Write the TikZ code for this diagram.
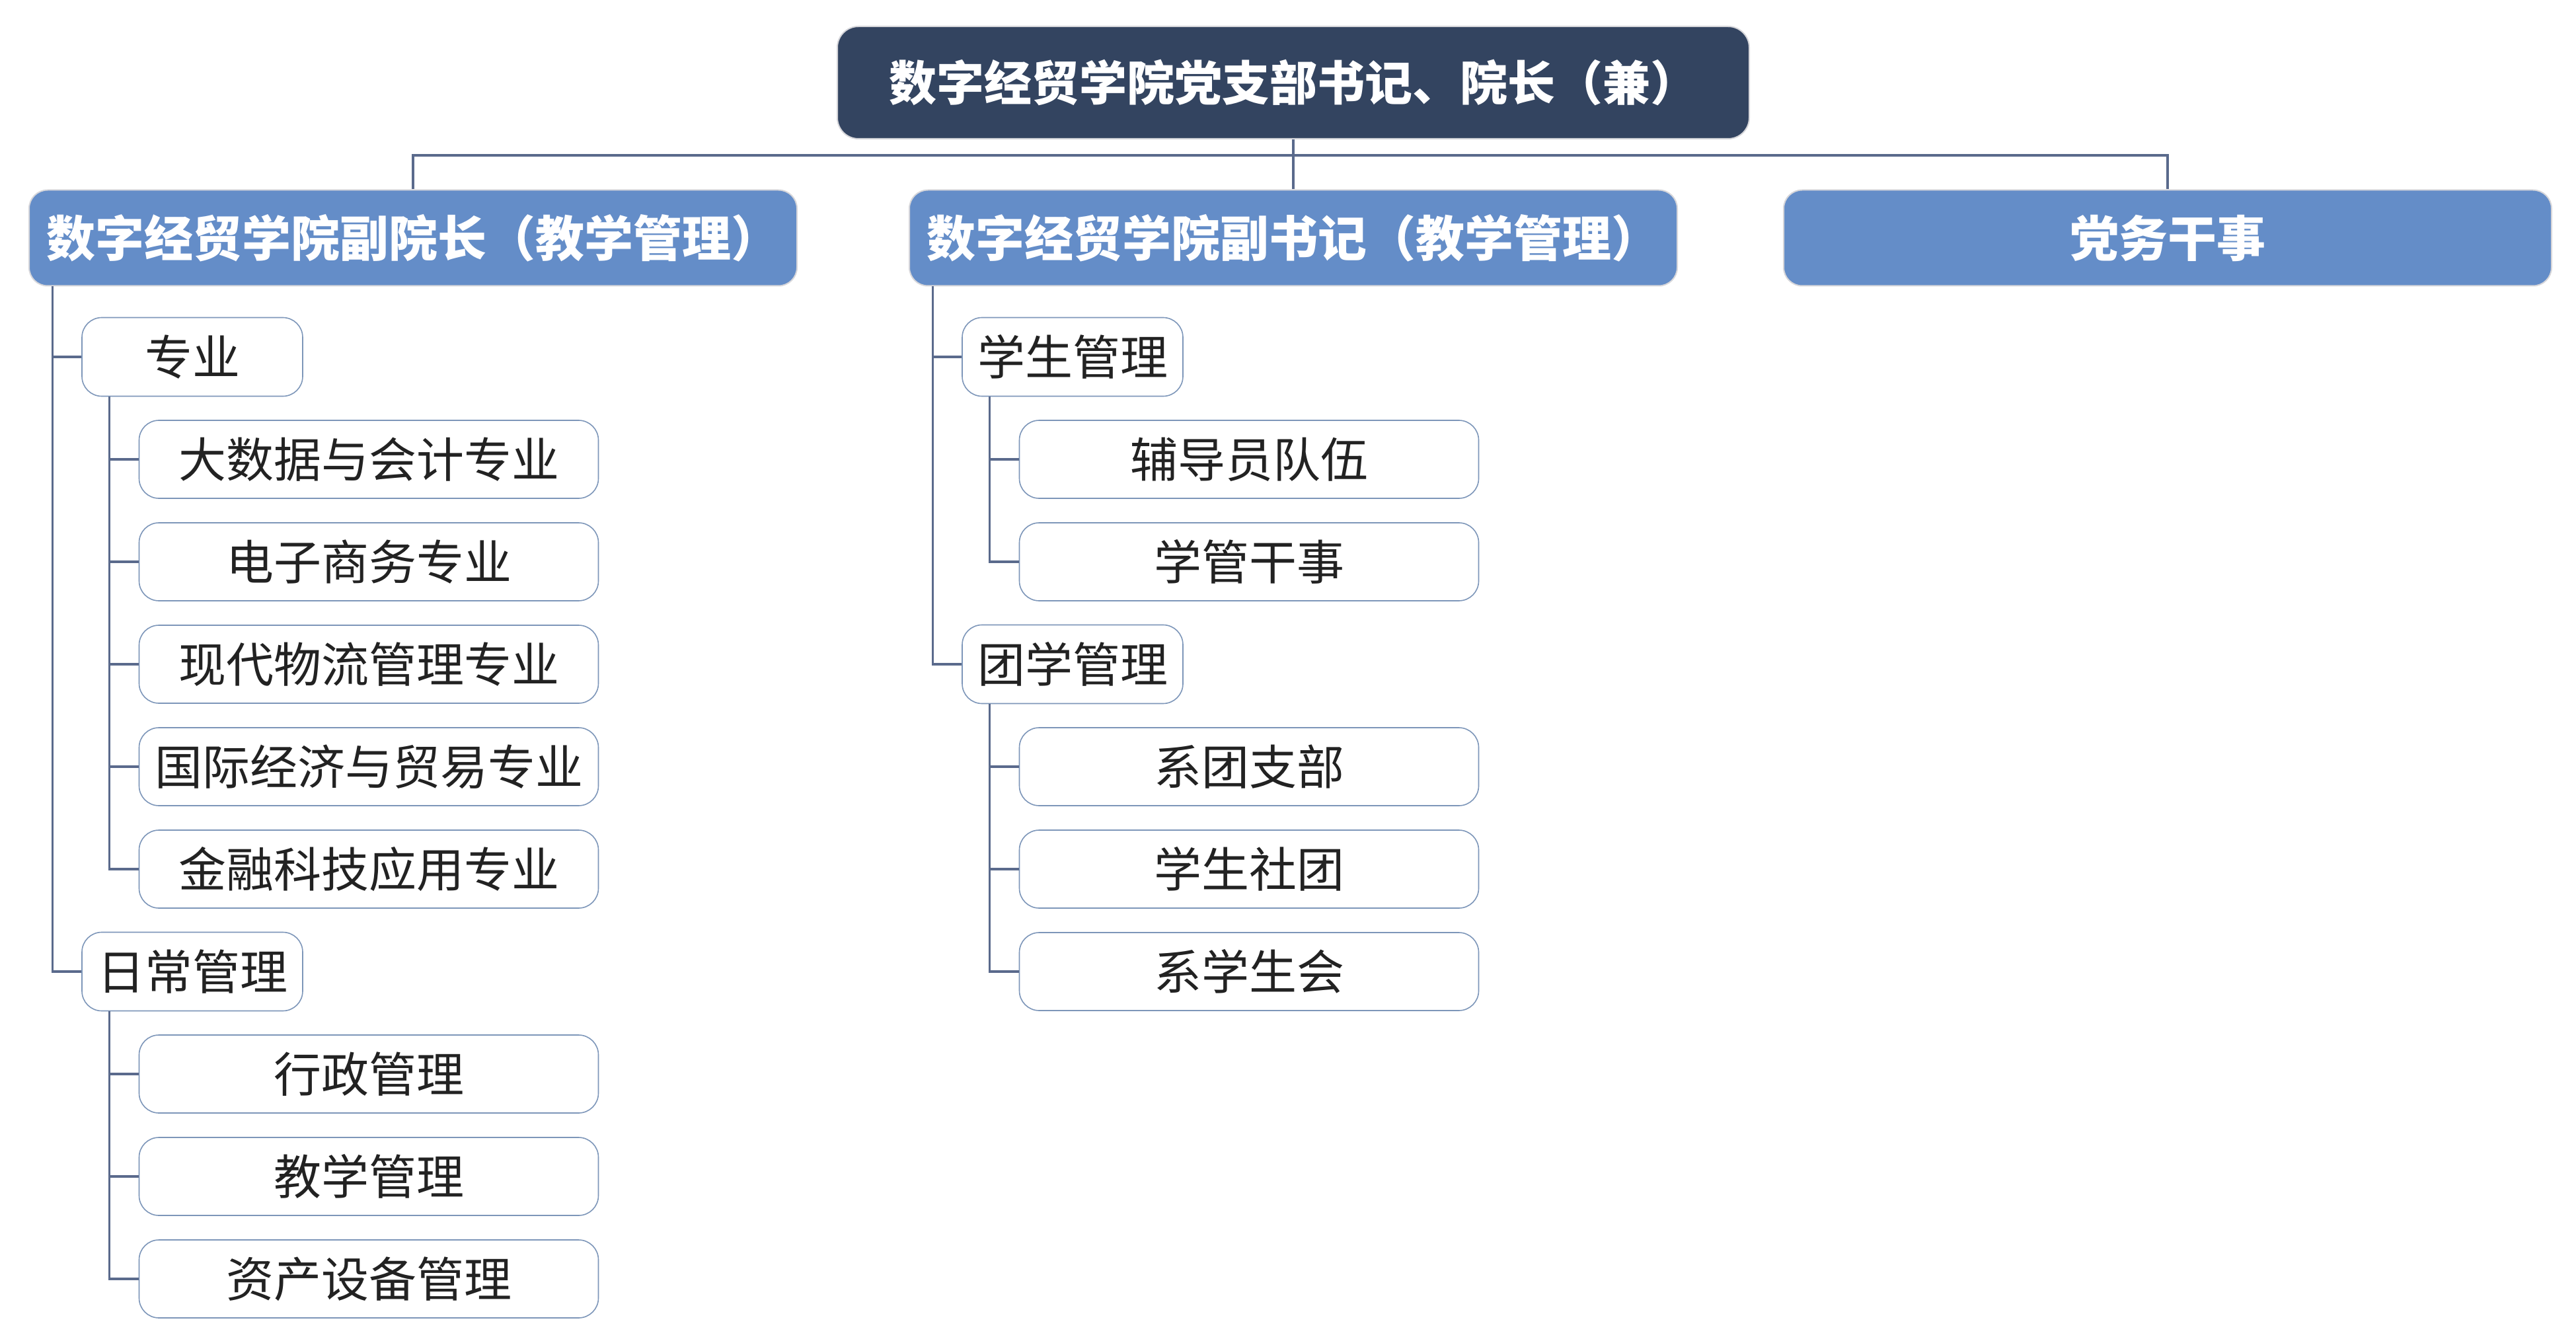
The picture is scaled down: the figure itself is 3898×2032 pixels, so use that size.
\documentclass[tikz,border=0pt]{standalone}
\usepackage{fontspec}
\setmainfont{Noto Sans CJK SC}
\usepackage{tikz}
\usetikzlibrary{positioning, calc}
\definecolor{N}{RGB}{51,68,96}
\definecolor{M}{RGB}{100,141,200}
\definecolor{G}{RGB}{214,214,218}
\definecolor{E}{RGB}{125,150,185}
\definecolor{L}{RGB}{90,106,140}
\definecolor{K}{RGB}{34,34,34}
\tikzstyle{head} = [rectangle, rounded corners=8pt,
minimum width=345pt, minimum height=42.5pt, inner sep=0pt,
draw=G, line width=0.5pt, fill=N, text=white,
font=\fontsize{18pt}{20pt}\selectfont\bfseries]
\tikzstyle{dept} = [rectangle, rounded corners=7pt,
minimum width=290.5pt, minimum height=36.25pt, inner sep=0pt,
draw=G, line width=0.5pt, fill=M, text=white,
font=\fontsize{18.5pt}{20pt}\selectfont\bfseries]
\tikzstyle{unit} = [rectangle, rounded corners=7.5pt,
minimum width=83.5pt, minimum height=29.75pt, inner sep=0pt,
draw=E, line width=0.4pt, fill=white, text=K,
font=\fontsize{18pt}{20pt}\selectfont]
\tikzstyle{leaf} = [unit, minimum width=173.75pt, minimum height=29.5pt]
\tikzstyle{conn} = [draw=L, line width=0.8pt]

\begin{document}
\begin{tikzpicture}[
    x=0.25pt, y=-0.25pt, % one unit is one pixel of the layout, y runs down
    node distance=38.75pt, % one row of the lists below the heads
  ]
    \useasboundingbox (0,0) rectangle (3898,2032);

    \node[head]                     (0) at (1957,125) {数字经贸学院党支部书记、院长（兼）};
    \node[dept]                     (1) at (625,360)  {数字经贸学院副院长（教学管理）};
    \node[dept]                     (2) at (1957,360) {数字经贸学院副书记（教学管理）};
    \node[dept]                     (3) at (3280,360) {党务干事};

    \node[unit, below of=1, shift={(-334,25)}]   (10)  {专业};
    \node[leaf, below of=10, shift={(267,0)}]    (100) {大数据与会计专业};
    \node[leaf, below of=100]                    (101) {电子商务专业};
    \node[leaf, below of=101]                    (102) {现代物流管理专业};
    \node[leaf, below of=102]                    (103) {国际经济与贸易专业};
    \node[leaf, below of=103]                    (104) {金融科技应用专业};
    \node[unit, below of=104, shift={(-267,0)}]  (11)  {日常管理};
    \node[leaf, below of=11, shift={(267,0)}]    (110) {行政管理};
    \node[leaf, below of=110]                    (111) {教学管理};
    \node[leaf, below of=111]                    (112) {资产设备管理};

    \node[unit, below of=2, shift={(-334,25)}]   (20)  {学生管理};
    \node[leaf, below of=20, shift={(267,0)}]    (200) {辅导员队伍};
    \node[leaf, below of=200]                    (201) {学管干事};
    \node[unit, below of=201, shift={(-267,0)}]  (21)  {团学管理};
    \node[leaf, below of=21, shift={(267,0)}]    (210) {系团支部};
    \node[leaf, below of=210]                    (211) {学生社团};
    \node[leaf, below of=211]                    (212) {系学生会};

    % trunks
    \coordinate (bus) at (0,235);
    \coordinate (t1)  at ([xshift=-11pt]10.west |- 1.south);
    \coordinate (t2)  at ([xshift=-11pt]20.west |- 2.south);
    \coordinate (t10) at ([xshift=10.5pt]10.south west);
    \coordinate (t11) at ([xshift=10.5pt]11.south west);
    \coordinate (t20) at ([xshift=10.5pt]20.south west);
    \coordinate (t21) at ([xshift=10.5pt]21.south west);

    \draw [conn] (0.south) -- (2.north);
    \draw [conn] (1.north) -- (1.north |- bus) -- (3.north |- bus) -- (3.north);

    \draw [conn] (t1) |- (10.west);
    \draw [conn] (t1) |- (11.west);
    \draw [conn] (t10) |- (100.west);
    \draw [conn] (t10) |- (101.west);
    \draw [conn] (t10) |- (102.west);
    \draw [conn] (t10) |- (103.west);
    \draw [conn] (t10) |- (104.west);
    \draw [conn] (t11) |- (110.west);
    \draw [conn] (t11) |- (111.west);
    \draw [conn] (t11) |- (112.west);

    \draw [conn] (t2) |- (20.west);
    \draw [conn] (t2) |- (21.west);
    \draw [conn] (t20) |- (200.west);
    \draw [conn] (t20) |- (201.west);
    \draw [conn] (t21) |- (210.west);
    \draw [conn] (t21) |- (211.west);
    \draw [conn] (t21) |- (212.west);
  \end{tikzpicture}
\end{document}
